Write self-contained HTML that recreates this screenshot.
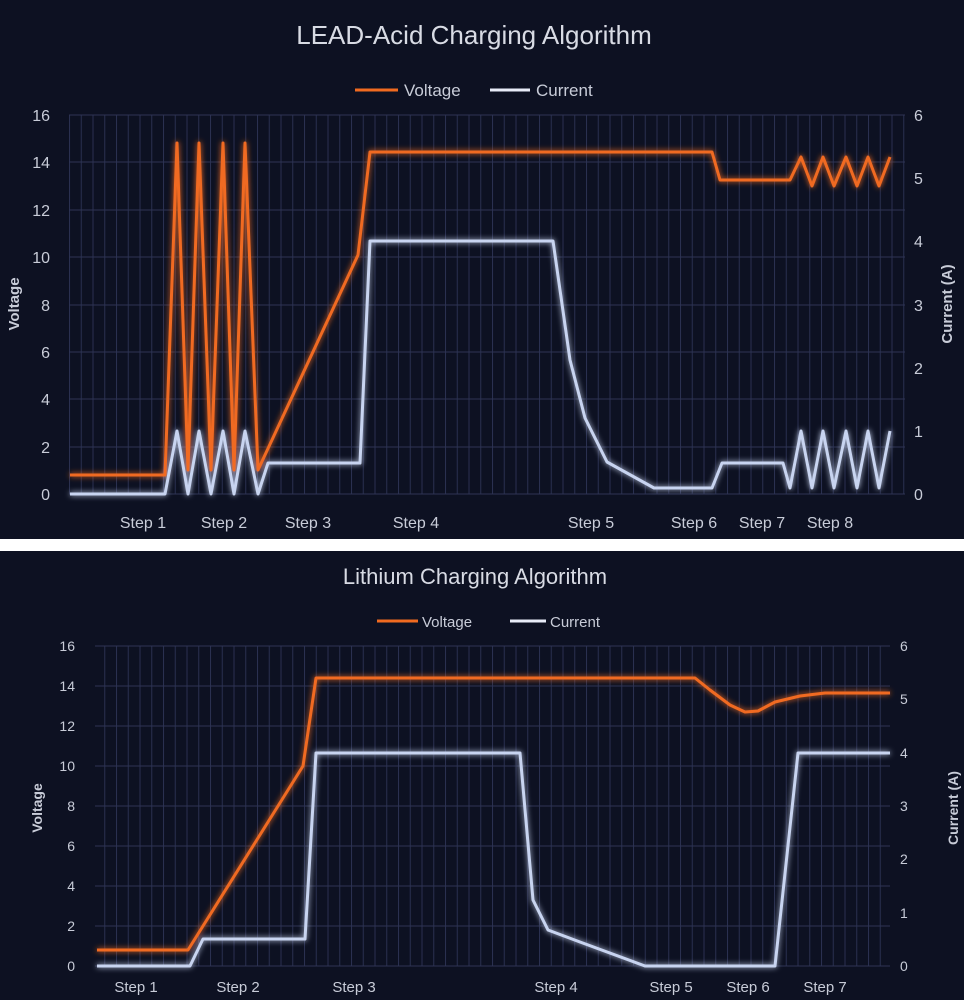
<!DOCTYPE html>
<html><head><style>
html,body{margin:0;padding:0;background:#0d1122;}
svg{display:block;font-family:"Liberation Sans",sans-serif;}
</style></head><body>
<svg width="964" height="1000" viewBox="0 0 964 1000" xmlns="http://www.w3.org/2000/svg">
<defs>
<filter id="glow" x="-10%" y="-10%" width="120%" height="120%">
<feGaussianBlur stdDeviation="3" result="b"/>
<feMerge><feMergeNode in="b"/><feMergeNode in="SourceGraphic"/></feMerge>
</filter>
<pattern id="vg1" x="69" y="0" width="11.75" height="10" patternUnits="userSpaceOnUse">
<line x1="0.5" y1="0" x2="0.5" y2="10" stroke="#2a3050" stroke-width="1"/>
</pattern>
</defs>
<rect width="964" height="1000" fill="#0d1122"/>
<rect x="0" y="539" width="964" height="12" fill="#ffffff"/>

<!-- TOP CHART -->
<text x="474" y="44" fill="#d8dbe4" font-size="26" text-anchor="middle">LEAD-Acid Charging Algorithm</text>
<line x1="355" y1="90" x2="398" y2="90" stroke="#f06a20" stroke-width="3"/>
<text x="404" y="96" fill="#c8ccd8" font-size="17">Voltage</text>
<line x1="490" y1="90" x2="530" y2="90" stroke="#e8ecf8" stroke-width="3"/>
<text x="536" y="96" fill="#c8ccd8" font-size="17">Current</text>
<rect x="69" y="115" width="836" height="379" fill="url(#vg1)"/>
<g stroke="#2e3454" stroke-width="1">
<line x1="69" y1="115" x2="905" y2="115"/><line x1="69" y1="162" x2="905" y2="162"/>
<line x1="69" y1="210" x2="905" y2="210"/><line x1="69" y1="257" x2="905" y2="257"/>
<line x1="69" y1="305" x2="905" y2="305"/><line x1="69" y1="352" x2="905" y2="352"/>
<line x1="69" y1="399" x2="905" y2="399"/><line x1="69" y1="447" x2="905" y2="447"/>
<line x1="69" y1="494" x2="905" y2="494"/>
</g>
<g fill="#c8ccd8" font-size="16" text-anchor="end">
<text x="50" y="121">16</text><text x="50" y="168">14</text><text x="50" y="216">12</text>
<text x="50" y="263">10</text><text x="50" y="311">8</text><text x="50" y="358">6</text>
<text x="50" y="405">4</text><text x="50" y="453">2</text><text x="50" y="500">0</text>
</g>
<g fill="#c8ccd8" font-size="16" text-anchor="start">
<text x="914" y="121">6</text><text x="914" y="184">5</text><text x="914" y="247">4</text>
<text x="914" y="311">3</text><text x="914" y="374">2</text><text x="914" y="437">1</text><text x="914" y="500">0</text>
</g>
<text transform="translate(19,304) rotate(-90)" fill="#c8ccd8" font-size="15" font-weight="bold" text-anchor="middle">Voltage</text>
<text transform="translate(952,304) rotate(-90)" fill="#c8ccd8" font-size="15" font-weight="bold" text-anchor="middle">Current (A)</text>
<g fill="#c8ccd8" font-size="16" text-anchor="middle">
<text x="143" y="528">Step 1</text><text x="224" y="528">Step 2</text><text x="308" y="528">Step 3</text>
<text x="416" y="528">Step 4</text><text x="591" y="528">Step 5</text><text x="694" y="528">Step 6</text>
<text x="762" y="528">Step 7</text><text x="830" y="528">Step 8</text>
</g>
<g fill="none" stroke-width="3" stroke-linejoin="round" filter="url(#glow)">
<polyline stroke="#f06a20" points="70,475 165,475 177,143 188,470 199,143 211,470 223,143 234,470 245,143 258,470 358,255 370,152 712,152 720,180 790,180 801,157 812,186 823,157 834,186 846,157 857,186 868,157 879,186 890,157"/>
<polyline stroke="#c8d4f0" points="70,494 165,494 177,431 188,494 199,431 211,494 223,431 234,494 245,431 258,494 268,463 360,463 370,241 553,241 570,360 585,418 607,462 654,488 712,488 722,463 783,463 790,488 801,431 812,488 823,431 834,488 846,431 857,488 868,431 879,488 890,431"/>
</g>

<!-- BOTTOM CHART -->
<text x="475" y="584" fill="#d8dbe4" font-size="22" text-anchor="middle">Lithium Charging Algorithm</text>
<line x1="377" y1="621" x2="418" y2="621" stroke="#f06a20" stroke-width="3"/>
<text x="422" y="627" fill="#c8ccd8" font-size="15">Voltage</text>
<line x1="510" y1="621" x2="546" y2="621" stroke="#e8ecf8" stroke-width="3"/>
<text x="550" y="627" fill="#c8ccd8" font-size="15">Current</text>
<rect x="95" y="646" width="795" height="320" fill="url(#vg1)"/>
<g stroke="#2e3454" stroke-width="1">
<line x1="95" y1="646" x2="890" y2="646"/><line x1="95" y1="686" x2="890" y2="686"/>
<line x1="95" y1="726" x2="890" y2="726"/><line x1="95" y1="766" x2="890" y2="766"/>
<line x1="95" y1="806" x2="890" y2="806"/><line x1="95" y1="846" x2="890" y2="846"/>
<line x1="95" y1="886" x2="890" y2="886"/><line x1="95" y1="926" x2="890" y2="926"/>
<line x1="95" y1="966" x2="890" y2="966"/>
</g>
<g fill="#c8ccd8" font-size="14" text-anchor="end">
<text x="75" y="651">16</text><text x="75" y="691">14</text><text x="75" y="731">12</text>
<text x="75" y="771">10</text><text x="75" y="811">8</text><text x="75" y="851">6</text>
<text x="75" y="891">4</text><text x="75" y="931">2</text><text x="75" y="971">0</text>
</g>
<g fill="#c8ccd8" font-size="14" text-anchor="start">
<text x="900" y="651">6</text><text x="900" y="704">5</text><text x="900" y="758">4</text>
<text x="900" y="811">3</text><text x="900" y="864">2</text><text x="900" y="918">1</text><text x="900" y="971">0</text>
</g>
<text transform="translate(42,808) rotate(-90)" fill="#c8ccd8" font-size="14" font-weight="bold" text-anchor="middle">Voltage</text>
<text transform="translate(958,808) rotate(-90)" fill="#c8ccd8" font-size="14" font-weight="bold" text-anchor="middle">Current (A)</text>
<g fill="#c8ccd8" font-size="15" text-anchor="middle">
<text x="136" y="992">Step 1</text><text x="238" y="992">Step 2</text><text x="354" y="992">Step 3</text>
<text x="556" y="992">Step 4</text><text x="671" y="992">Step 5</text><text x="748" y="992">Step 6</text>
<text x="825" y="992">Step 7</text>
</g>
<g fill="none" stroke-width="3" stroke-linejoin="round" filter="url(#glow)">
<polyline stroke="#f06a20" points="97,950 188,950 303,766 316,678 695,678 710,690 730,705 745,712 758,711 775,702 800,696 825,693 890,693"/>
<polyline stroke="#c8d4f0" points="97,966 190,966 203,939 305,939 316,753 520,753 533,900 548,930 580,942 645,966 775,966 798,753 890,753"/>
</g>
</svg>
</body></html>
